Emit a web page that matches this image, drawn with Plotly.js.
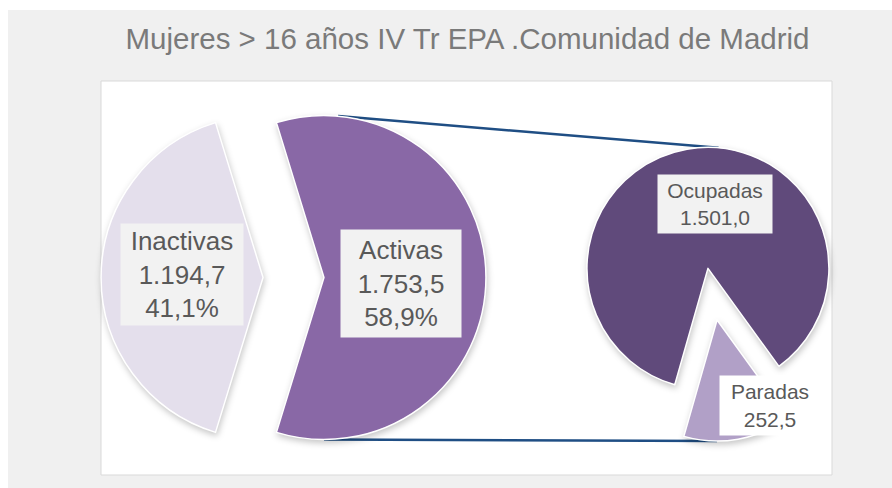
<!DOCTYPE html>
<html><head><meta charset="utf-8">
<script src="https://cdn.plot.ly/plotly-3.0.1.min.js"></script>
<style>
html,body{margin:0;padding:0;background:#fff}
#chart{width:892px;height:488px}
.pielayer path.surface{filter:drop-shadow(1px 3px 3px rgba(0,0,0,0.22))}
</style>
</head><body><div id="chart"></div>
<script>
// ---- data ----
const mainLabels = ['Activas', 'Inactivas'];
const mainValues = [1753.5, 1194.7];
const mainPctText = ['58,9%', '41,1%'];
const subLabels = ['Paradas', 'Ocupadas'];
const subValues = [252.5, 1501.0];
const titleText = 'Mujeres > 16 años IV Tr EPA .Comunidad de Madrid';

// ---- style / layout config ----
const W = 892, H = 488;
const FONT = 'Liberation Sans, Arial, sans-serif';
const TXT = '#595959';
const mainColors = ['#8968a6', '#e4dfec'];
const subColors = ['#b1a0c7', '#604a7b'];
const mainGeom = {cx: 293.5, cy: 277.5, r: 162, pull: 0.188};
const subGeom = {cx: 712.5, cy: 294.2, r: 121, pull: 0.2165, bisector: 170};
// label offsets relative to the pulled slice center, in units of radius
const mainLabelOff = [[0.475, 0.034], [-0.5, -0.019]];
const mainLabelBox = [[120, 107], [122, 101]];
const subLabelOff = [[0.44, 0.707], [0.055, -0.531]];
const subLabelBox = [[100, 59], [114, 58]];
const subLabelBg = ['#ffffff', '#f2f2f2'];

function sum(a) { return a.reduce((s, v) => s + v, 0); }
function fmt(v) {
  const p = v.toFixed(1).split('.');
  return p[0].replace(/\B(?=(\d{3})+(?!\d))/g, '.') + ',' + p[1];
}
function domainOf(g) {
  const half = g.r * (1 + g.pull);
  return {x: [(g.cx - half) / W, (g.cx + half) / W],
          y: [1 - (g.cy + half) / H, 1 - (g.cy - half) / H]};
}
// bisector (clockwise from 12 o'clock, degrees) of each slice
function bisectors(values, rot) {
  const tot = sum(values); let a = rot; const out = [];
  values.forEach(v => { const span = v / tot * 360; out.push(a + span / 2); a += span; });
  return out;
}
function polar(cx, cy, r, deg) {
  const t = deg * Math.PI / 180;
  return [cx + r * Math.sin(t), cy - r * Math.cos(t)];
}
function pulledCenter(g, bis) { return polar(g.cx, g.cy, g.r * g.pull, bis); }

const mainTotal = sum(mainValues), subTotal = sum(subValues);
const mainRot = 90 - mainValues[0] / mainTotal * 180;
const subRot = subGeom.bisector - subValues[0] / subTotal * 180;
const mainBis = bisectors(mainValues, mainRot);
const subBis = bisectors(subValues, subRot);
const mainCenters = mainBis.map(b => pulledCenter(mainGeom, b));
const subCenters = subBis.map(b => pulledCenter(subGeom, b));

const traces = [
  {type: 'pie', labels: mainLabels, values: mainValues, sort: false,
   direction: 'clockwise', rotation: mainRot, pull: mainValues.map(() => mainGeom.pull),
   domain: domainOf(mainGeom), textinfo: 'none', hoverinfo: 'none', showlegend: false,
   marker: {colors: mainColors, line: {color: '#ffffff', width: 1.5}}},
  {type: 'pie', labels: subLabels, values: subValues, sort: false,
   direction: 'clockwise', rotation: subRot, pull: subValues.map(() => subGeom.pull),
   domain: domainOf(subGeom), textinfo: 'none', hoverinfo: 'none', showlegend: false,
   marker: {colors: subColors, line: {color: '#ffffff', width: 1.5}}}
];

const annotations = [];
mainLabels.forEach((lab, i) => {
  const c = mainCenters[i];
  const px = c[0] + mainLabelOff[i][0] * mainGeom.r, py = c[1] + mainLabelOff[i][1] * mainGeom.r;
  annotations.push({xref: 'paper', yref: 'paper', x: px / W, y: 1 - py / H,
    xanchor: 'center', yanchor: 'middle', showarrow: false,
    text: lab + '<br>' + fmt(mainValues[i]) + '<br>' + mainPctText[i],
    width: mainLabelBox[i][0], height: mainLabelBox[i][1], borderpad: 0,
    bgcolor: '#f2f2f2', font: {family: FONT, size: 26, color: TXT}});
});
subLabels.forEach((lab, i) => {
  const c = subCenters[i];
  const px = c[0] + subLabelOff[i][0] * subGeom.r, py = c[1] + subLabelOff[i][1] * subGeom.r;
  annotations.push({xref: 'paper', yref: 'paper', x: px / W, y: 1 - py / H,
    xanchor: 'center', yanchor: 'middle', showarrow: false,
    text: lab + '<br>' + fmt(subValues[i]),
    width: subLabelBox[i][0], height: subLabelBox[i][1], borderpad: 0,
    bgcolor: subLabelBg[i], font: {family: FONT, size: 21, color: TXT}});
});

// connector lines between the Activas slice and the secondary pie
const aC = mainCenters[0], oC = subCenters[1], pC = subCenters[0];
const t0 = polar(aC[0], aC[1], mainGeom.r, 5), t1 = polar(oC[0], oC[1], subGeom.r, 5);
const b0 = polar(aC[0], aC[1], mainGeom.r, 180), b1 = polar(pC[0], pC[1], subGeom.r, 180);
function P(x, y) { return [x / W, 1 - y / H]; }

const shapes = [
  {type: 'rect', xref: 'paper', yref: 'paper', x0: 8 / W, x1: 1, y0: 0, y1: 1 - 10 / H,
   fillcolor: '#f0f0f0', line: {width: 0}, layer: 'below'},
  {type: 'rect', xref: 'paper', yref: 'paper', x0: 101 / W, x1: 832 / W, y0: 1 - 475 / H, y1: 1 - 81 / H,
   fillcolor: '#ffffff', line: {color: '#d9d9d9', width: 1}, layer: 'below'},
  {type: 'line', xref: 'paper', yref: 'paper', x0: P(...t0)[0], y0: P(...t0)[1], x1: P(...t1)[0], y1: P(...t1)[1],
   line: {color: '#1f4e84', width: 2.5}, layer: 'below'},
  {type: 'line', xref: 'paper', yref: 'paper', x0: P(...b0)[0], y0: P(...b0)[1], x1: P(...b1)[0], y1: P(...b1)[1],
   line: {color: '#1f4e84', width: 2.5}, layer: 'below'}
];

const layout = {
  width: W, height: H, margin: {l: 0, r: 0, t: 0, b: 0},
  paper_bgcolor: '#ffffff', plot_bgcolor: '#ffffff',
  title: {text: titleText, x: 467.5 / W, xanchor: 'center', xref: 'container',
          y: 1 - 39 / H, yanchor: 'middle', yref: 'container',
          font: {family: FONT, size: 29.5, color: '#7a7a7a'}},
  shapes: shapes, annotations: annotations, showlegend: false
};
Plotly.newPlot('chart', traces, layout, {staticPlot: true, displayModeBar: false});
</script>
</body></html>
